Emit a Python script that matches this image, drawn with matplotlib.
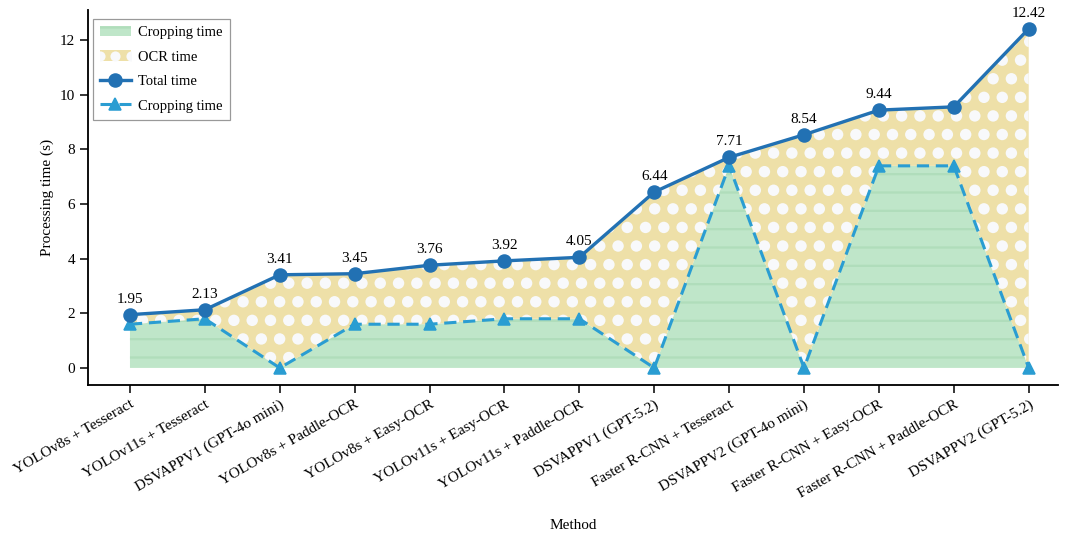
import numpy as np
import matplotlib.pyplot as plt
from matplotlib.patches import Patch, Rectangle
from matplotlib.lines import Line2D
from matplotlib.legend_handler import HandlerBase

plt.rcParams['font.family'] = ['Liberation Serif', 'DejaVu Serif']
plt.rcParams['hatch.linewidth'] = 1.5

methods = ['YOLOv8s + Tesseract', 'YOLOv11s + Tesseract', 'DSVAPPV1 (GPT-4o mini)',
           'YOLOv8s + Paddle-OCR', 'YOLOv8s + Easy-OCR', 'YOLOv11s + Easy-OCR',
           'YOLOv11s + Paddle-OCR', 'DSVAPPV1 (GPT-5.2)', 'Faster R-CNN + Tesseract',
           'DSVAPPV2 (GPT-4o mini)', 'Faster R-CNN + Easy-OCR',
           'Faster R-CNN + Paddle-OCR', 'DSVAPPV2 (GPT-5.2)']
total_time = [1.95, 2.13, 3.41, 3.45, 3.76, 3.92, 4.05, 6.44, 7.71, 8.54, 9.44, 9.56, 12.42]
crop_time = [1.6, 1.8, 0.0, 1.6, 1.6, 1.8, 1.8, 0.0, 7.4, 0.0, 7.4, 7.4, 0.0]
show_label = [True] * 11 + [False, True]

green = '#bfe6c9'
green_hatch = '#b0ddbb'
beige = '#eee0a8'
dot = '#f8f9fb'
c_total = '#2271b3'
c_crop = '#2a9dd2'


class DottedHandler(HandlerBase):
    # beige box with a few white dots, like the OCR fill
    def create_artists(self, legend, orig_handle, xd, yd, w, h, fontsize, trans):
        rect = Rectangle((-xd, -yd), w, h, facecolor=beige, edgecolor='none', transform=trans)
        n = 3
        xs = -xd + np.linspace(0, w, n)
        dots = Line2D(xs, np.full(n, -yd + h / 2), ls='none', marker='o', ms=h * 1.0,
                      mfc=dot, mec='none', transform=trans)
        dots.set_clip_path(rect)
        return [rect, dots]


x = np.arange(len(methods))
total = np.array(total_time)
crop = np.array(crop_time)

fig = plt.figure(figsize=(1067 / 110, 536 / 110), dpi=110)
ax = fig.add_axes([0.0825, 0.282, 0.909, 0.699])

ax.set_xlim(-0.56, 12.39)
ax.set_ylim(-0.62, 13.1)

ax.fill_between(x, 0, crop, facecolor=green, edgecolor=green_hatch,
                hatch='-', linewidth=0, zorder=1)
ocr = ax.fill_between(x, crop, total, facecolor=beige, edgecolor='none',
                      linewidth=0, zorder=1)

# white dot texture on the OCR area (staggered grid, ~18 px pitch)
px_x = 74.92
px_y = 27.33
dx = 18.3 / px_x
dy = 18.6 / px_y
rows = np.arange(-0.3, 13.0, dy)
gx, gy = [], []
for i, yy in enumerate(rows):
    xs = np.arange(-0.2 + (dx / 2) * (i % 2), 12.3, dx)
    gx.extend(xs)
    gy.extend([yy] * len(xs))
sc = ax.scatter(gx, gy, s=56, c=dot, edgecolors='none', zorder=2)
sc.set_clip_path(ocr.get_paths()[0], ax.transData)

ax.plot(x, total, '-o', color=c_total, lw=2.2, ms=8.5, zorder=4)
ax.plot(x, crop, '--^', color=c_crop, lw=2.0, ms=8, dashes=(4, 2.2), zorder=3)

for xi, v, s in zip(x, total_time, show_label):
    if s:
        ax.annotate(f'{v:.2f}', (xi, v), xytext=(0, 6), textcoords='offset points',
                    ha='center', va='bottom', fontsize=10)

ax.set_yticks([0, 2, 4, 6, 8, 10, 12])
ax.set_xticks(x)
ax.set_xticklabels(methods, rotation=30, ha='right', rotation_mode='anchor', fontsize=10)
ax.tick_params(axis='y', labelsize=10)
ax.tick_params(direction='out', length=5, width=1)
ax.set_ylabel('Processing time (s)', fontsize=10)
ax.set_xlabel('Method', fontsize=10, labelpad=12)
for sp in ['top', 'right']:
    ax.spines[sp].set_visible(False)
for sp in ['left', 'bottom']:
    ax.spines[sp].set_linewidth(1.2)

ocr_handle = Patch(facecolor=beige, label='OCR time')
handles = [
    Patch(facecolor=green, edgecolor=green_hatch, hatch='-', linewidth=0, label='Cropping time'),
    ocr_handle,
    Line2D([], [], color=c_total, marker='o', lw=2.2, ms=8.5, label='Total time'),
    Line2D([], [], color=c_crop, marker='^', lw=2.0, ms=8, ls='--', dashes=(4, 2.2),
           label='Cropping time'),
]
leg = ax.legend(handles=handles, loc='upper left', bbox_to_anchor=(0.002, 0.985),
                handler_map={ocr_handle: DottedHandler()},
                fontsize=9.5, fancybox=False, framealpha=1, edgecolor='#999999',
                handlelength=2.1, handletextpad=0.5, borderpad=0.5, labelspacing=0.78,
                borderaxespad=0.2)
leg.get_frame().set_linewidth(0.8)

fig.savefig('out.png', dpi=110)
